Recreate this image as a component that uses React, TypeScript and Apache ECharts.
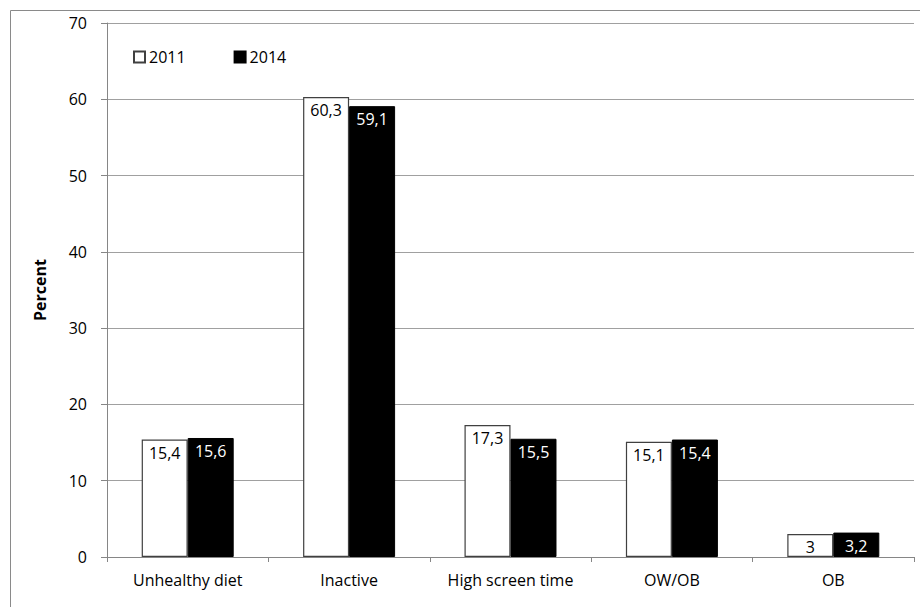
import React, { useEffect, useRef } from "react";
import * as echarts from "echarts";

const categories = ["Unhealthy diet", "Inactive", "High screen time", "OW/OB", "OB"];
const values2011 = [15.4, 60.3, 17.3, 15.1, 3];
const values2014 = [15.6, 59.1, 15.5, 15.4, 3.2];
const yTicks = { min: 0, max: 70, interval: 10 };
const seriesNames = ["2011", "2014"];

const FONT = "'Open Sans', sans-serif";
const FS = 16;
const fmt = (p: any) => String(p.value).replace(".", ",");

export default function App() {
  const ref = useRef<HTMLDivElement>(null);
  useEffect(() => {
    document.body.style.margin = "0";
    const chart = echarts.init(ref.current!, null, { renderer: "svg" });
    chart.setOption({
      animation: false,
      backgroundColor: "#fff",
      textStyle: { fontFamily: FONT },
      graphic: [
        {
          type: "rect",
          shape: { x: 10.5, y: 10.5, width: 1000, height: 1000 },
          style: { fill: "none", stroke: "#8a8a8a", lineWidth: 1 },
          silent: true,
          z: -1,
        },
        {
          type: "text",
          x: 40,
          y: 290,
          rotation: Math.PI / 2,
          style: {
            text: "Percent",
            font: `bold 16px ${FONT}`,
            fill: "#000",
            align: "center",
            verticalAlign: "middle",
          },
        },
      ],
      legend: {
        left: 128,
        top: 44,
        itemWidth: 11,
        itemHeight: 11,
        itemGap: 48,
        icon: "rect",
        textStyle: { fontSize: FS, color: "#000", fontFamily: FONT, padding: [0, 0, 0, -1] },
        data: seriesNames,
      },
      grid: { left: 107, right: 6, top: 23, bottom: 50, containLabel: false },
      xAxis: {
        type: "category",
        data: categories,
        axisLine: { lineStyle: { color: "#868686" } },
        axisTick: { show: true, length: 5, lineStyle: { color: "#868686" } },
        axisLabel: { color: "#000", fontSize: FS, margin: 15, fontFamily: FONT, interval: 0 },
      },
      yAxis: {
        type: "value",
        min: yTicks.min,
        max: yTicks.max,
        interval: yTicks.interval,
        axisLine: { show: true, lineStyle: { color: "#868686" } },
        axisTick: { show: true, length: 6, lineStyle: { color: "#868686" } },
        axisLabel: { color: "#000", fontSize: FS, margin: 20, fontFamily: FONT },
        splitLine: { lineStyle: { color: "#a0a0a0" } },
      },
      series: [
        {
          name: seriesNames[0],
          type: "bar",
          data: values2011,
          barGap: "0%",
          barCategoryGap: "43%",
          itemStyle: { color: "#fff", borderColor: "#404040", borderWidth: 1.2 },
          label: {
            show: true,
            position: "insideTop",
            distance: 5,
            color: "#000",
            fontSize: FS,
            fontFamily: FONT,
            formatter: fmt,
          },
        },
        {
          name: seriesNames[1],
          type: "bar",
          data: values2014,
          barGap: "0%",
          barCategoryGap: "43%",
          itemStyle: { color: "#000", borderColor: "#000", borderWidth: 1 },
          label: {
            show: true,
            position: "insideTop",
            distance: 5,
            color: "#fff",
            fontSize: FS,
            fontFamily: FONT,
            formatter: fmt,
          },
        },
      ],
    });
    return () => chart.dispose();
  }, []);
  return <div ref={ref} style={{ width: 920, height: 607 }} />;
}
